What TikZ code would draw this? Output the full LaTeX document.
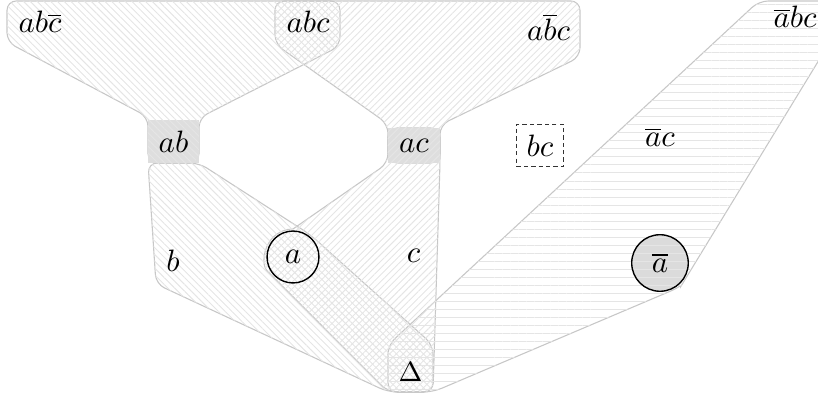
\documentclass[tikz,border=0pt]{standalone}
\usetikzlibrary{patterns.meta}
\pgfdeclarelayer{strokes}
\pgfdeclarelayer{fills}
\pgfdeclarelayer{pats}
\pgfsetlayers{strokes,fills,pats,main}
\begin{document}
\begin{tikzpicture}[x=0.3235pt,y=-0.3235pt,
  hullline/.style={draw=black!22, line width=0.35pt},
  hnw/.style={pattern={Lines[angle=-45,distance=1.55pt,line width=0.3pt]}, pattern color=black!10},
  hne/.style={pattern={Lines[angle=45,distance=1.55pt,line width=0.3pt]}, pattern color=black!10},
  hhor/.style={pattern={Lines[angle=0,distance=2.6pt,line width=0.3pt]}, pattern color=black!10},
  lbl/.style={inner sep=0pt, anchor=base},
  setbox/.style={inner sep=3.33pt},
  elem/.style={circle, draw=black, line width=0.45pt, inner sep=1pt},
]
\useasboundingbox (0,0) rectangle (818,398);

% nodes
\node[lbl] (abcbar) at (40,33) {$ab\overline{c}$};
\node[lbl] (abc) at (308,33) {$abc$};
\node[lbl] (abbarc) at (548.5,41) {$a\overline{b}c$};
\node[lbl] (abarbc) at (795,28) {$\overline{a}bc$};
\node[setbox] (ab) at (173.5,141.5) {$ab$};
\node[setbox] (ac) at (414,145.5) {$ac$};
\node[setbox, draw=black!80, dash pattern=on 1.4pt off 1pt, line width=0.45pt] (bc) at (540,145.5) {$bc$};
\node[lbl] (abarc) at (660,147) {$\overline{a}c$};
\node[elem, minimum size=16.8pt] (a) at (293,257) {$a$};
\node[elem, minimum size=18.3pt] (abar) at (660,263) {$\overline{a}$};
\node[lbl] (b) at (173,272) {$b$};
\node[lbl] (c) at (413.5,263) {$c$};
\node[font=\small] (delta) at (410.5,372.5) {$\Delta$};

% hull outlines (saved)
\path[rounded corners=3pt, save path=\hullA]
  (7,1) -- (340,1) -- (340,46) -- (199,118) -- (199,163) -- (148,163) -- (148,117) -- (7,42) -- cycle;
\path[rounded corners=3pt, save path=\hullB]
  (275,1) -- (580,1) -- (580,57) -- (440,125) -- (440,163) -- (388,163) -- (388,124) -- (275,44) -- cycle;
\path[rounded corners=3pt, save path=\hullb]
  (148,163) -- (156,284) -- (388,392) -- (433,392) -- (433,345) -- (310,234.5) -- (199,163) -- cycle;
\path[rounded corners=3pt, save path=\hullc]
  (388,128) -- (440,128) -- (440,163) -- (433,392) -- (388,392)
  -- ([shift={(293,257)}]135:28) [sharp corners] arc[start angle=135,end angle=270,radius=28]
  [rounded corners=3pt] -- (388,163) -- cycle;
\path[rounded corners=3pt, save path=\hullabar]
  (759,1) -- (830,1) -- (830,42)
  -- ([shift={(660,263)}]31.4:30) [sharp corners] arc[start angle=31.4,end angle=67,radius=30]
  [rounded corners=3pt] -- (433,392) -- (388,392) -- (388,345) -- cycle;

\begin{pgfonlayer}{strokes}
  \path[hullline, use path=\hullA];
  \path[hullline, use path=\hullB];
  \path[hullline, use path=\hullb];
  \path[hullline, use path=\hullc];
  \path[hullline, use path=\hullabar];
\end{pgfonlayer}

\begin{pgfonlayer}{fills}
  \fill[black!13] (ab.south west) rectangle (ab.north east);
  \fill[black!13] (ac.south west) rectangle (ac.north east);
  \fill[black!14] (abar.center) circle[radius=9.1pt];
\end{pgfonlayer}

\begin{pgfonlayer}{pats}
  \path[hnw, use path=\hullA];
  \path[hne, use path=\hullB];
  \path[hnw, use path=\hullb];
  \path[hne, use path=\hullc];
  \path[hhor, use path=\hullabar];
\end{pgfonlayer}
\end{tikzpicture}
\end{document}
